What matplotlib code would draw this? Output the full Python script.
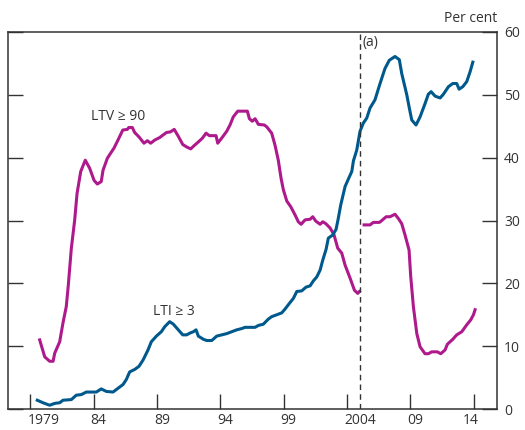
import matplotlib
matplotlib.use('Agg')
from matplotlib import pyplot as plt
from matplotlib import transforms

plt.rcParams['font.family'] = ['Open Sans', 'DejaVu Sans']

# LTV >= 90 share, split at the series break
ltv_years_a = [1979.74, 1980.14, 1980.53, 1980.8, 1980.93, 1981.32, 1981.58, 1981.84, 1982.0, 1982.24,
               1982.5, 1982.69, 1982.98, 1983.34, 1983.69, 1984.03, 1984.29, 1984.6, 1984.74, 1985.08,
               1985.27, 1985.6, 1985.92, 1986.3, 1986.66, 1986.77, 1987.05, 1987.24, 1987.58, 1987.97,
               1988.24, 1988.5, 1988.82, 1989.21, 1989.47, 1989.74, 1990.05, 1990.36, 1990.68, 1991.03,
               1991.34, 1991.66, 1991.92, 1992.26, 1992.58, 1992.87, 1993.13, 1993.66, 1993.79, 1994.1,
               1994.5, 1994.76, 1995.02, 1995.37, 1996.13, 1996.29, 1996.52, 1996.74, 1997.0, 1997.47,
               1997.66, 1998.05, 1998.31, 1998.57, 1998.79, 1998.97, 1999.24, 1999.55, 1999.89, 2000.15,
               2000.37, 2000.68, 2001.08, 2001.29, 2001.53, 2001.87, 2002.08, 2002.32, 2002.66, 2002.97,
               2003.26, 2003.58, 2003.84, 2004.24, 2004.58, 2004.84, 2004.97]
ltv_values_a = [11.0, 8.3, 7.6, 7.6, 8.9, 10.7, 13.7, 16.3, 19.7, 25.6,
                30.0, 34.3, 37.8, 39.6, 38.3, 36.4, 35.8, 36.2, 38.0, 39.9,
                40.5, 41.5, 42.8, 44.4, 44.5, 44.8, 44.8, 44.0, 43.3, 42.3,
                42.7, 42.3, 42.8, 43.2, 43.6, 44.0, 44.1, 44.5, 43.4, 42.1,
                41.7, 41.4, 41.9, 42.5, 43.1, 43.9, 43.5, 43.5, 42.3, 43.1,
                44.2, 45.2, 46.5, 47.4, 47.4, 46.2, 45.8, 46.2, 45.3, 45.2,
                44.9, 43.9, 42.0, 39.6, 36.7, 34.9, 33.1, 32.2, 30.9, 29.8,
                29.4, 30.1, 30.2, 30.6, 29.9, 29.4, 29.8, 29.5, 28.8, 27.7,
                25.6, 24.8, 22.9, 20.8, 18.9, 18.4, 18.7]

ltv_years_b = [2005.34, 2005.81, 2006.07, 2006.55, 2006.74, 2007.08, 2007.39, 2007.78, 2008.05, 2008.31,
               2008.57, 2008.89, 2009.02, 2009.23, 2009.5, 2009.76, 2010.15, 2010.41, 2010.68, 2011.12,
               2011.39, 2011.73, 2011.91, 2012.34, 2012.65, 2013.05, 2013.44, 2013.76, 2013.97, 2014.1]
ltv_values_b = [29.3, 29.3, 29.7, 29.7, 30.0, 30.6, 30.6, 31.0, 30.3, 29.5,
                27.7, 25.3, 21.1, 16.3, 12.0, 9.9, 8.8, 8.8, 9.1, 9.1,
                8.8, 9.4, 10.3, 11.1, 11.8, 12.3, 13.4, 14.2, 15.0, 15.8]

# LTI >= 3 share
lti_years = [1979.55, 1980.0, 1980.53, 1980.93, 1981.32, 1981.58, 1982.24, 1982.63, 1983.03, 1983.42,
             1984.21, 1984.6, 1985.0, 1985.53, 1985.92, 1986.32, 1986.58, 1986.84, 1987.24, 1987.58,
             1987.9, 1988.29, 1988.55, 1988.95, 1989.34, 1989.61, 1990.0, 1990.29, 1990.68, 1991.03,
             1991.34, 1991.61, 1991.87, 1992.08, 1992.26, 1992.66, 1992.92, 1993.32, 1993.71, 1994.11,
             1994.5, 1994.9, 1995.29, 1995.68, 1995.95, 1996.74, 1997.0, 1997.39, 1997.78, 1998.05,
             1998.45, 1998.84, 1999.1, 1999.44, 1999.76, 2000.03, 2000.42, 2000.76, 2001.08, 2001.34,
             2001.6, 2001.87, 2002.08, 2002.34, 2002.52, 2002.87, 2003.13, 2003.31, 2003.5, 2003.84,
             2004.1, 2004.37, 2004.5, 2004.76, 2005.02, 2005.28, 2005.55, 2005.81, 2006.2, 2006.6,
             2006.99, 2007.33, 2007.78, 2008.12, 2008.31, 2008.71, 2008.91, 2009.1, 2009.44, 2009.76,
             2010.15, 2010.41, 2010.63, 2010.94, 2011.34, 2011.6, 2012.0, 2012.34, 2012.65, 2012.84,
             2013.13, 2013.44, 2013.71, 2013.92]
lti_values = [1.4, 1.0, 0.6, 0.9, 1.0, 1.4, 1.5, 2.2, 2.3, 2.7,
              2.7, 3.2, 2.8, 2.7, 3.3, 3.9, 4.7, 5.9, 6.3, 6.8,
              7.8, 9.4, 10.7, 11.6, 12.3, 13.1, 13.9, 13.5, 12.6, 11.8,
              11.8, 12.1, 12.3, 12.6, 11.6, 11.1, 10.9, 10.9, 11.6, 11.8,
              12.0, 12.3, 12.6, 12.8, 13.0, 13.0, 13.3, 13.5, 14.3, 14.7,
              15.0, 15.3, 15.9, 16.8, 17.6, 18.7, 18.8, 19.4, 19.6, 20.4,
              21.0, 22.1, 23.7, 25.4, 27.2, 27.7, 28.6, 30.4, 32.5, 35.4,
              36.6, 37.8, 39.5, 41.2, 44.2, 45.5, 46.3, 47.9, 49.2, 51.8,
              54.2, 55.5, 56.1, 55.6, 53.4, 50.0, 47.9, 46.0, 45.2, 46.5,
              48.6, 50.1, 50.5, 49.8, 49.5, 50.1, 51.3, 51.8, 51.8, 50.9,
              51.3, 52.1, 53.7, 55.2]

tick_years = [1979, 1984, 1989, 1994, 1999, 2004, 2009, 2014]
tick_labels = ['1979', '84', '89', '94', '99', '2004', '09', '14']
y_ticks = [0, 10, 20, 30, 40, 50, 60]
break_year = 2005.0

blue = '#00598C'
magenta = '#AE1A8C'
dark = '#333333'

fig = plt.figure(figsize=(5.25, 4.3), dpi=100)
ax = fig.add_axes([0.0152, 0.0488, 0.9315, 0.8768])

ax.plot(ltv_years_a, ltv_values_a, color=magenta, lw=2.2, solid_joinstyle='round')
ax.plot(ltv_years_b, ltv_values_b, color=magenta, lw=2.2, solid_joinstyle='round')
ax.plot(lti_years, lti_values, color=blue, lw=2.2, solid_joinstyle='round')
ax.axvline(break_year, color=dark, lw=1.0, ls=(0, (4, 3)))

ax.set_xlim(1977.24, 2015.83)
ax.set_ylim(0, 60)

# ticks inside on every side, values only on the right
ax.set_yticks(y_ticks)
ax.tick_params(axis='y', which='both', direction='in', length=10.5, width=1.0, color=dark,
               left=True, right=True, labelleft=False, labelright=True, labelsize=10, labelcolor=dark, pad=5)
ax.set_xticks(tick_years)
ax.set_xticklabels(tick_labels)
ax.tick_params(axis='x', direction='in', length=10.5, width=1.0, color=dark, labelsize=10,
               labelcolor=dark, pad=3)
shift = transforms.ScaledTranslation(-3 / 100, 0, fig.dpi_scale_trans)
for lab in ax.get_xticklabels()[:-1]:
    lab.set_horizontalalignment('left')
    lab.set_transform(lab.get_transform() + shift)
last = ax.get_xticklabels()[-1]
last.set_transform(last.get_transform() + shift)
for lab in ax.get_yticklabels():
    lab.set_horizontalalignment('left')

for s in ax.spines.values():
    s.set_color(dark)
    s.set_linewidth(1.1)

ax.text(1985.9, 46.5, 'LTV ≥ 90', ha='center', va='center', fontsize=10, color=dark)
ax.text(1990.3, 15.5, 'LTI ≥ 3', ha='center', va='center', fontsize=10, color=dark)
ax.text(break_year + 0.2, 58.3, '(a)', ha='left', va='center', fontsize=10, color=dark)
ax.text(1.0, 1.015, 'Per cent', transform=ax.transAxes, ha='right', va='bottom', fontsize=10, color=dark)

fig.savefig('out.png', dpi=100)
